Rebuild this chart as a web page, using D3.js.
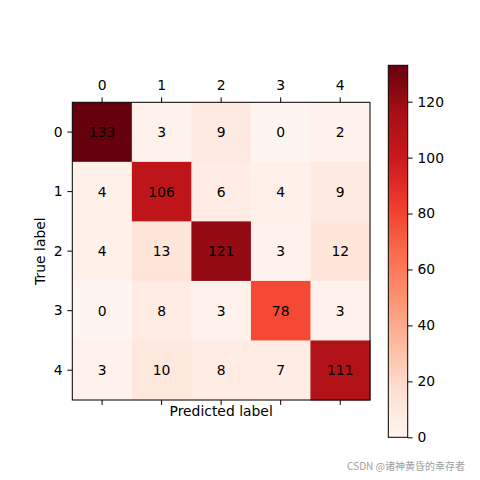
<!DOCTYPE html>
<html>
<head>
<meta charset="utf-8">
<script src="https://cdn.jsdelivr.net/npm/d3@7"></script>
<style>
  body { margin: 0; background: #fff; }
  svg text { font-family: "DejaVu Sans", sans-serif; }
</style>
</head>
<body>
<div id="chart"></div>
<script>
const classes = ["0", "1", "2", "3", "4"];
const matrix = [
    [133, 3, 9, 0, 2],
    [4, 106, 6, 4, 9],
    [4, 13, 121, 3, 12],
    [0, 8, 3, 78, 3],
    [3, 10, 8, 7, 111]
];
const colorbarTicks = [0, 20, 40, 60, 80, 100, 120];
const redsStops = ["#fff5f0", "#fee0d2", "#fcbba1", "#fc9272", "#fb6a4a", "#ef3b2c", "#cb181d", "#a50f15", "#67000d"];

const W = 480, H = 480;
const plotLeft = 72.3, plotTop = 102.3, size = 297.7;
const fontSize = 13.9;
const tickLen = 4.9;

const svg = d3.select("#chart")
    .append("svg")
    .attr("width", W)
    .attr("height", H);

const vmin = d3.min(matrix.flat());
const vmax = d3.max(matrix.flat());

// matplotlib Reds is a linear ramp through the 9 brewer colours
const color = d3.scaleLinear()
    .domain(redsStops.map((_, i) => vmin + (vmax - vmin) * i / (redsStops.length - 1)))
    .range(redsStops)
    .interpolate(d3.interpolateRgb)
    .clamp(true);

const x = d3.scaleBand().domain(classes).range([plotLeft, plotLeft + size]);
const y = d3.scaleBand().domain(classes).range([plotTop, plotTop + size]);

const cells = [];
matrix.forEach((row, i) => row.forEach((v, j) => cells.push({ r: classes[i], c: classes[j], v: v })));

svg.append("g")
    .selectAll("rect")
    .data(cells)
    .join("rect")
    .attr("x", d => x(d.c))
    .attr("y", d => y(d.r))
    .attr("width", x.bandwidth() + 0.5)
    .attr("height", y.bandwidth() + 0.5)
    .attr("fill", d => color(d.v));

svg.append("g")
    .selectAll("text")
    .data(cells)
    .join("text")
    .attr("x", d => x(d.c) + x.bandwidth() / 2)
    .attr("y", d => y(d.r) + y.bandwidth() / 2)
    .attr("text-anchor", "middle")
    .attr("dy", "0.36em")
    .attr("font-size", fontSize)
    .attr("fill", "#000")
    .text(d => d.v);

svg.append("rect")
    .attr("x", plotLeft)
    .attr("y", plotTop)
    .attr("width", size)
    .attr("height", size)
    .attr("fill", "none")
    .attr("stroke", "#000")
    .attr("stroke-width", 1);

function styleAxis(g) {
    g.select(".domain").remove();
    g.selectAll("line").attr("stroke", "#000").attr("stroke-width", 1);
    g.selectAll("text").attr("font-size", fontSize).attr("fill", "#000")
        .style("font-family", "DejaVu Sans, sans-serif");
}

svg.append("g")
    .attr("transform", "translate(0," + plotTop + ")")
    .call(d3.axisTop(x).tickSize(tickLen).tickPadding(7.9))
    .call(styleAxis);

svg.append("g")
    .attr("transform", "translate(0," + (plotTop + size) + ")")
    .call(d3.axisBottom(x).tickSize(tickLen).tickFormat(""))
    .call(styleAxis);

svg.append("g")
    .attr("transform", "translate(" + plotLeft + ",0)")
    .call(d3.axisLeft(y).tickSize(tickLen).tickPadding(4.9))
    .call(styleAxis);

svg.append("text")
    .attr("x", plotLeft + size / 2)
    .attr("y", 416)
    .attr("text-anchor", "middle")
    .attr("font-size", fontSize)
    .text("Predicted label");

svg.append("text")
    .attr("transform", "translate(45," + (plotTop + size / 2) + ") rotate(-90)")
    .attr("text-anchor", "middle")
    .attr("font-size", fontSize)
    .text("True label");

// colour bar
const cbX = 388.3, cbW = 19.4, cbTop = 65.3, cbBottom = 437.3;
const cy = d3.scaleLinear().domain([vmin, vmax]).range([cbBottom, cbTop]);

const defs = svg.append("defs");
const grad = defs.append("linearGradient")
    .attr("id", "cbgrad")
    .attr("x1", 0).attr("y1", 1).attr("x2", 0).attr("y2", 0);
grad.selectAll("stop")
    .data(redsStops)
    .join("stop")
    .attr("offset", (_, i) => i / (redsStops.length - 1))
    .attr("stop-color", d => d);

svg.append("rect")
    .attr("x", cbX)
    .attr("y", cbTop)
    .attr("width", cbW)
    .attr("height", cbBottom - cbTop)
    .attr("fill", "url(#cbgrad)")
    .attr("stroke", "#000")
    .attr("stroke-width", 1);

svg.append("g")
    .attr("transform", "translate(" + (cbX + cbW) + ",0)")
    .call(d3.axisRight(cy).tickValues(colorbarTicks).tickSize(tickLen).tickPadding(4.9))
    .call(styleAxis);

svg.append("text")
    .attr("x", 465)
    .attr("y", 470)
    .attr("text-anchor", "end")
    .attr("font-size", 10)
    .attr("fill", "#a0a0a0")
    .style("font-family", "'Noto Sans CJK SC', 'Noto Sans', sans-serif")
    .text("CSDN @诸神黄昏的幸存者");
</script>
</body>
</html>
